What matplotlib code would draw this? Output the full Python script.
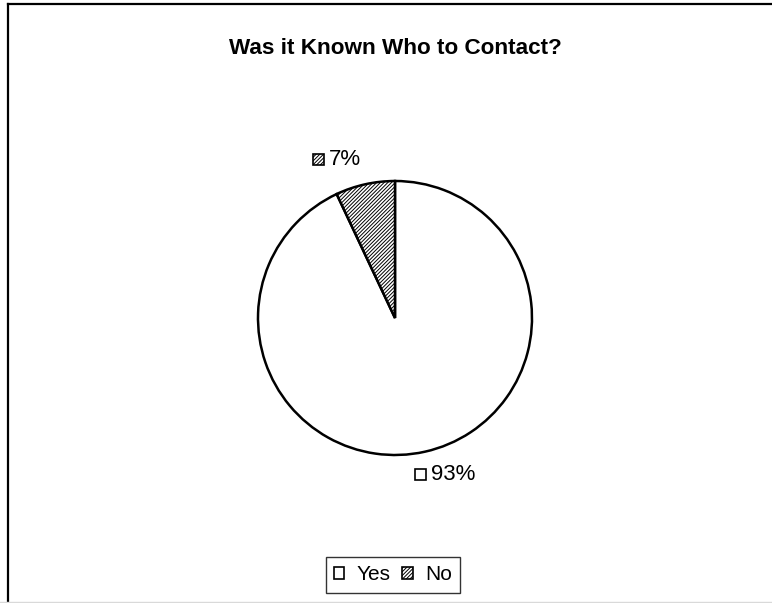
import matplotlib.pyplot as plt
import numpy as np
from matplotlib.patches import Patch, Rectangle
from matplotlib.lines import Line2D

plt.rcParams['font.family'] = ['Liberation Sans', 'DejaVu Sans']
plt.rcParams['hatch.linewidth'] = 0.7

# 数据
labels = ['Yes', 'No']
shares = [93, 7]
label_text = ['93%', '7%']
title = 'Was it Known Who to Contact?'

W, H = 772, 603
fig = plt.figure(figsize=(W / 100, H / 100), dpi=100)
fig.patch.set_facecolor('white')
hatch = '/' * 9

# 饼图区域（中心 395,318，半径 137 像素）
cx, cy, r = 395, 318, 137
ax = fig.add_axes([(cx - r) / W, (H - cy - r) / H, 2 * r / W, 2 * r / H])
wedges, _ = ax.pie(shares, startangle=90, counterclock=False,
                   colors=['white', 'white'], radius=1.0,
                   wedgeprops=dict(edgecolor='black', linewidth=1.8))
wedges[1].set_hatch(hatch)
ax.set_xlim(-1, 1)
ax.set_ylim(-1, 1)
ax.set_aspect('equal')
ax.axis('off')

# 数据标签：小方块 + 百分比
label_pos = [(0.146, -1.139), (-0.6, 1.16)]
box = 0.08
for w, txt, (lx, ly) in zip(wedges, label_text, label_pos):
    sq = Rectangle((lx, ly - box / 2), box, box, facecolor='white',
                   edgecolor='black', linewidth=1.2, hatch=w.get_hatch(),
                   clip_on=False)
    ax.add_patch(sq)
    ax.text(lx + box + 0.035, ly, txt, fontsize=16, ha='left', va='center',
            clip_on=False)

fig.text(cx / W, 1 - 48 / H, title, fontsize=16.2, fontweight='bold',
         ha='center', va='center')

handles = [Patch(facecolor='white', edgecolor='black', linewidth=1.2),
           Patch(facecolor='white', edgecolor='black', linewidth=1.2,
                 hatch=hatch)]
leg = fig.legend(handles, labels, loc='center', ncol=2,
                 bbox_to_anchor=(393 / W, 1 - 575 / H), fontsize=15,
                 frameon=True, fancybox=False, edgecolor='black',
                 handlelength=0.5, handleheight=0.5, handletextpad=0.6,
                 columnspacing=0.55, borderpad=0.4, borderaxespad=0)
leg.get_frame().set_linewidth(1.0)

# 外框
fig.add_artist(Line2D([7.5 / W, 7.5 / W], [0, 1 - 3.5 / H], color='black',
                      linewidth=1.6))
fig.add_artist(Line2D([7.5 / W, 1], [1 - 3.5 / H, 1 - 3.5 / H], color='black',
                      linewidth=1.6))
fig.add_artist(Line2D([0, 1], [1.5 / H, 1.5 / H], color='#d9d9d9',
                      linewidth=1.0))

fig.savefig('out.png', dpi=100)
